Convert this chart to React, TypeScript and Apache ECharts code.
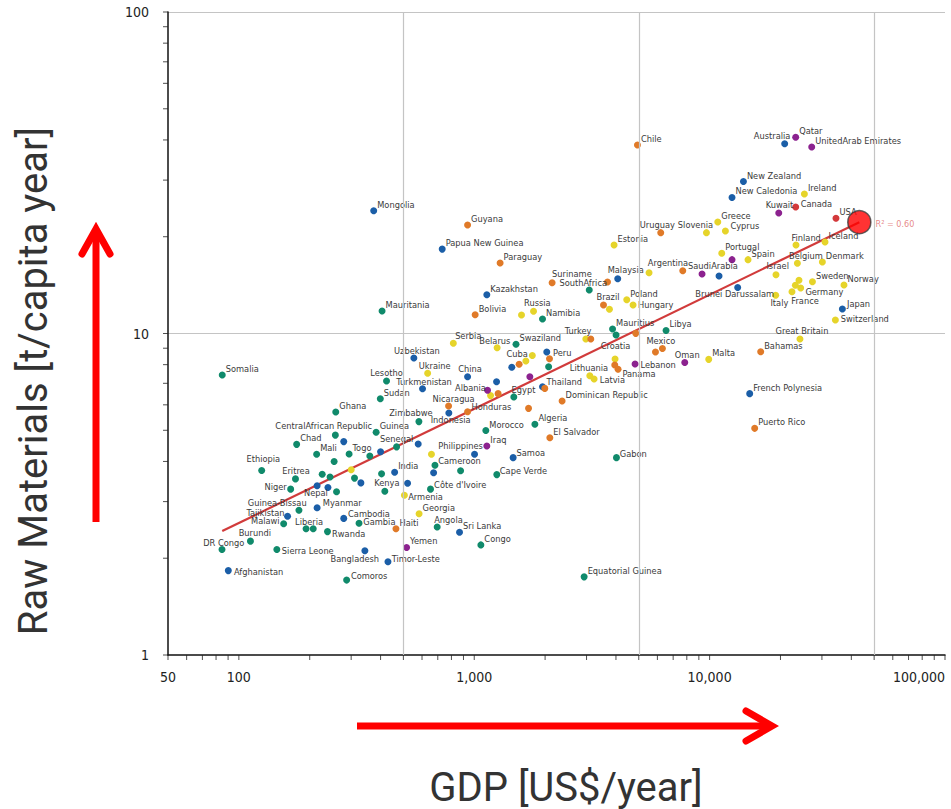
import React, { useEffect, useRef } from 'react';
import * as echarts from 'echarts';

type Pt = [string, number, number];

// [country, GDP US$/year, raw materials t/capita year]
const africa: Pt[] = [
  ['Somalia', 85, 7.43], ['Mauritania', 406, 11.75], ['SouthAfrica', 3080, 13.65],
  ['Namibia', 1950, 11.1], ['Swaziland', 1505, 9.26], ['', 2070, 7.88],
  ['Mauritius', 3870, 10.33], ['', 4005, 9.89], ['Libya', 6530, 10.22],
  ['Lesotho', 424, 7.12], ['Sudan', 399, 6.27], ['Ghana', 258, 5.7],
  ['CentralAfrican Republic', 257, 4.83], ['Guinea', 383, 4.93], ['Chad', 176, 4.52],
  ['Mali', 214, 4.21], ['Togo', 294, 4.22], ['', 254, 4.0], ['', 360, 4.16],
  ['Senegal', 468, 4.44], ['Zimbabwe', 582, 5.32], ['Egypt', 1473, 6.35],
  ['Algeria', 1810, 5.22], ['Morocco', 1120, 4.99], ['Gabon', 4020, 4.11],
  ['Cameroon', 681, 3.89], ['', 875, 3.74], ['Cape Verde', 1247, 3.64],
  ["Côte d'Ivoire", 652, 3.28], ['Angola', 696, 2.5], ['Congo', 1067, 2.2],
  ['Equatorial Guinea', 2930, 1.75], ['Ethiopia', 125, 3.75], ['Eritrea', 174, 3.53],
  ['', 226, 3.65], ['', 244, 3.58], ['', 310, 3.55], ['', 404, 3.66],
  ['Kenya', 417, 3.23], ['Niger', 166, 3.28], ['', 260, 3.22],
  ['Guinea-Bissau', 180, 2.82], ['Malawi', 155, 2.56], ['Liberia', 193, 2.47],
  ['', 207, 2.47], ['Gambia', 324, 2.57], ['Rwanda', 238, 2.42],
  ['Burundi', 112, 2.26], ['DR Congo', 84.8, 2.13], ['Sierra Leone', 145, 2.13],
  ['Comoros', 287, 1.71],
];

const asiaPacific: Pt[] = [
  ['Mongolia', 374, 24.1], ['Papua New Guinea', 731, 18.3], ['Kazakhstan', 1131, 13.2],
  ['Uzbekistan', 554, 8.39], ['', 2033, 8.76], ['', 1444, 7.85], ['China', 937, 7.34],
  ['', 1244, 7.08], ['Thailand', 1950, 6.83], ['Turkmenistan', 603, 6.73],
  ['Indonesia', 780, 5.66], ['', 578, 4.53], ['Philippines', 1003, 4.21],
  ['Samoa', 1463, 4.11], ['', 400, 4.29], ['', 279, 4.61], ['India', 459, 3.7],
  ['', 330, 3.43], ['', 521, 3.42], ['Nepal', 215, 3.36], ['', 239, 3.32],
  ['Myanmar', 215, 2.87], ['Tajikistan', 161, 2.7], ['Cambodia', 279, 2.66],
  ['Bangladesh', 343, 2.11], ['Timor-Leste', 430, 1.95], ['Afghanistan', 90.2, 1.83],
  ['Sri Lanka', 866, 2.41], ['', 672, 3.69], ['Malaysia', 4070, 14.8],
  ['Australia', 20840, 38.9], ['New Zealand', 13920, 29.7], ['New Caledonia', 12450, 26.5],
  ['', 10965, 15.1], ['Brunei Darussalam', 13160, 13.9], ['Japan', 36640, 11.92],
  ['French Polynesia', 14800, 6.5],
];

const europe: Pt[] = [
  ['Serbia', 815, 9.33], ['Belarus', 1251, 9.03], ['', 1657, 8.21], ['', 1765, 8.54],
  ['Turkey', 2978, 9.61], ['Russia', 1588, 11.42], ['', 1786, 11.73], ['Ukraine', 634, 7.52],
  ['Lithuania', 3097, 7.39], ['Latvia', 3230, 7.22], ['Croatia', 3966, 8.33],
  ['Armenia', 505, 3.14], ['Georgia', 583, 2.75], ['', 300, 3.77], ['', 658, 4.21],
  ['Albania', 1173, 6.41], ['Estonia', 3927, 18.85], ['', 5529, 15.46],
  ['Poland', 4446, 12.74], ['Hungary', 4729, 12.27], ['', 3754, 11.89],
  ['Slovenia', 9694, 20.59], ['Greece', 10830, 22.23], ['Cyprus', 11670, 20.84],
  ['Portugal', 11260, 17.77], ['Spain', 14560, 16.97], ['Ireland', 25270, 27.17],
  ['Finland', 23280, 18.85], ['Iceland', 30920, 19.26], ['Belgium', 23600, 16.54],
  ['Denmark', 30130, 16.69], ['Israel', 19140, 15.24], ['Sweden', 27340, 14.49],
  ['Norway', 37220, 14.15], ['', 23970, 14.64], ['', 23140, 14.13],
  ['Germany', 24370, 13.85], ['France', 22380, 13.49], ['Italy', 19090, 13.15],
  ['Switzerland', 34210, 11.02], ['Great Britain', 24200, 9.61], ['Malta', 9913, 8.31],
];

const latinAmerica: Pt[] = [
  ['Chile', 4937, 38.6], ['Guyana', 937, 21.76], ['Paraguay', 1288, 16.57],
  ['Suriname', 2142, 14.39], ['', 3682, 14.46], ['Bolivia', 1009, 11.44],
  ['Brazil', 3541, 12.27], ['Uruguay', 6199, 20.59], ['Argentina', 7689, 15.68],
  ['', 4856, 10.01], ['', 3127, 9.61], ['Cuba', 1551, 8.02], ['Peru', 2088, 8.35],
  ['', 3954, 7.98], ['Panama', 4084, 7.74], ['', 5888, 8.76], ['Mexico', 6302, 8.98],
  ['Bahamas', 16480, 8.78], ['Puerto Rico', 15540, 5.07], ['Dominican Republic', 2362, 6.17],
  ['', 1701, 5.85], ['El Salvador', 2095, 4.74], ['Honduras', 937, 5.71],
  ['Nicaragua', 778, 5.95], ['', 1263, 6.5], ['', 1994, 6.75], ['Haiti', 465, 2.47],
];

const middleEast: Pt[] = [
  ['Qatar', 23210, 40.76], ['UnitedArab Emirates', 27150, 38.03], ['Kuwait', 19660, 23.71],
  ['', 12450, 16.97], ['SaudiArabia', 9286, 15.31], ['Lebanon', 4823, 8.04],
  ['Oman', 7841, 8.12], ['Yemen', 516, 2.16], ['Iraq', 1131, 4.47],
  ['', 1139, 6.66], ['', 1723, 7.34],
];

const northAmerica: Pt[] = [
  ['Canada', 23210, 24.75], ['USA', 34420, 22.82],
];

const trendLine: [number, number][] = [[85, 2.43], [43250, 22.2]];
const trendEnd: [number, number] = [43250, 22.2];
const rSquaredText = 'R² = 0.60';

const xTickValues = [
  50, 60, 70, 80, 90, 100, 200, 300, 400, 500, 600, 700, 800, 900, 1000,
  2000, 3000, 4000, 5000, 6000, 7000, 8000, 9000, 10000,
  20000, 30000, 40000, 50000, 60000, 70000, 80000, 90000, 100000,
];
const yTickValues = [1, 2, 3, 4, 5, 6, 7, 8, 9, 10, 20, 30, 40, 50, 60, 70, 80, 90, 100];
const verticalGrid = [500, 5000, 50000];

const xTitle = 'GDP [US$/year]';
const yTitle = 'Raw Materials [t/capita year]';

// label placement (style), relative to point centre: [dx, dy, align]
type Off = [number, number, 'left' | 'center' | 'right'];
const DEFAULT_OFF: Off = [3.5, -6.5, 'left'];
const labelOffsets: Record<string, Off> = {
  SouthAfrica: [-6, -8, 'center'], Lesotho: [0, -8.7, 'center'],
  'CentralAfrican Republic': [-11.6, -9.3, 'center'], Senegal: [0, -8, 'center'],
  Zimbabwe: [-8, -9, 'center'], Egypt: [-2.3, -7.7, 'left'], 'Cape Verde': [3, -4, 'left'],
  "Côte d'Ivoire": [3.6, -4.6, 'left'], Angola: [-3, -7.7, 'left'],
  Ethiopia: [1.6, -11.5, 'center'], Eritrea: [0.5, -8.3, 'center'], Kenya: [2, -8.3, 'center'],
  Niger: [-4, -3, 'right'], 'Guinea-Bissau': [7.7, -7.6, 'right'], Malawi: [-4, -3, 'right'],
  Liberia: [3, -7.7, 'center'], Gambia: [4.3, -1.3, 'left'], Rwanda: [4.6, 2.3, 'left'],
  Burundi: [4.4, -9, 'center'], 'DR Congo': [1.8, -7.3, 'center'],
  'Sierra Leone': [5, 1, 'left'], Comoros: [4.3, -4.6, 'left'], Gabon: [3.3, -4.5, 'left'],
  Cameroon: [3.3, -4.6, 'left'],
  Uzbekistan: [3, -8, 'center'], China: [2.5, -8.4, 'center'], Thailand: [4, -5, 'left'],
  Turkmenistan: [1.5, -7.7, 'center'], Indonesia: [1.8, 6.3, 'center'],
  Philippines: [8.3, -8.3, 'right'], Samoa: [3.4, -5, 'left'], Nepal: [-1.2, 6.3, 'center'],
  Myanmar: [5.7, -5, 'left'], Tajikistan: [-3, -4, 'right'], Cambodia: [4.3, -5, 'left'],
  Bangladesh: [-10, 7.6, 'center'], 'Timor-Leste': [3.7, -3.4, 'left'],
  Afghanistan: [5.7, 1, 'left'], Malaysia: [8, -9, 'center'], Australia: [5.7, -8, 'right'],
  'Brunei Darussalam': [-3, 6.3, 'center'], Japan: [4.6, -5, 'left'],
  Serbia: [1.8, -7.5, 'left'], Belarus: [-2.3, -7.7, 'center'], Turkey: [5.7, -9, 'right'],
  Russia: [2.6, -12, 'left'], Ukraine: [7, -7.6, 'center'], Lithuania: [-0.8, -8, 'center'],
  Latvia: [5.7, 1, 'left'], Croatia: [0.5, -13.3, 'center'], Armenia: [3.8, 1.4, 'left'],
  Albania: [-4.7, -8.4, 'right'], Hungary: [5, 0, 'left'], Slovenia: [6.6, -7.7, 'right'],
  Cyprus: [5, -5.3, 'left'], Finland: [-4.6, -7.7, 'left'], Belgium: [-8.4, -7.6, 'left'],
  Israel: [-9.6, -8.7, 'left'], Germany: [4.7, 3, 'left'], France: [-0.6, 8.3, 'left'],
  Italy: [-5.3, 7.4, 'left'], Switzerland: [5.3, -1.7, 'left'],
  'Great Britain': [2, -9, 'center'],
  Suriname: [0, -9.4, 'left'], Brazil: [-7, -8.3, 'left'], Uruguay: [-21, -8.4, 'left'],
  Argentina: [5.3, -8, 'right'], Cuba: [-12.6, -11, 'left'], Panama: [4.4, 4, 'left'],
  Mexico: [-16, -8.2, 'left'], Nicaragua: [-16, -7, 'left'], Honduras: [4, -5, 'left'],
  Kuwait: [-13, -8, 'left'], SaudiArabia: [-14, -8.3, 'left'], Lebanon: [5.4, 1, 'left'],
  Oman: [-10, -8.4, 'left'], Canada: [5, -3.7, 'left'],
};

const SYM = 7;
const LABEL_FONT = '"Liberation Sans Narrow", "Arial Narrow", "DejaVu Sans Condensed", sans-serif';

function items(pts: Pt[]) {
  return pts.map(([name, x, y]) => {
    const off = labelOffsets[name] || DEFAULT_OFF;
    return {
      name,
      value: [x, y],
      label: name
        ? {
            show: true,
            position: [SYM / 2 + off[0], SYM / 2 + off[1]],
            align: off[2],
            verticalAlign: 'middle',
          }
        : { show: false },
    };
  });
}

function group(pts: Pt[], color: string) {
  return {
    type: 'scatter',
    silent: true,
    z: 3,
    symbolSize: SYM,
    itemStyle: { color, opacity: 1 },
    label: {
      formatter: '{b}',
      fontFamily: LABEL_FONT,
      fontSize: 9.2,
      color: '#3a3a3a',
    },
    data: items(pts),
  };
}

export default function App() {
  const ref = useRef<HTMLDivElement>(null);

  useEffect(() => {
    if (!ref.current) return;
    const chart = echarts.init(ref.current, undefined, { renderer: 'svg' });
    const red = '#ff0000';
    chart.setOption({
      animation: false,
      backgroundColor: '#ffffff',
      grid: {
        left: 168, right: 6, top: 12, bottom: 154,
        containLabel: false, outerBoundsMode: 'none',
      },
      xAxis: {
        type: 'log',
        logBase: 10,
        min: 50,
        max: 100000,
        axisLine: { show: true, lineStyle: { color: '#111', width: 1.5 } },
        axisTick: { show: false },
        splitLine: { show: false },
        axisLabel: {
          margin: 15,
          fontFamily: LABEL_FONT,
          fontSize: 14,
          color: '#222',
          alignMaxLabel: 'right',
          formatter: (v: number) => Math.round(v).toLocaleString('en-US'),
        },
      },
      yAxis: {
        type: 'log',
        logBase: 10,
        min: 1,
        max: 100,
        axisLine: { show: true, lineStyle: { color: '#111', width: 1.5 } },
        axisTick: { show: false },
        splitLine: { show: true, showMinLine: false, lineStyle: { color: '#c4c4c4', width: 1.2 } },
        axisLabel: {
          margin: 19,
          fontFamily: LABEL_FONT,
          fontSize: 14,
          color: '#222',
          formatter: (v: number) => String(Math.round(v)),
        },
      },
      series: [
        {
          type: 'line',
          silent: true,
          z: 2,
          symbol: 'none',
          data: trendLine,
          lineStyle: { color: '#d13b3b', width: 2.2 },
          markLine: {
            silent: true,
            symbol: ['none', 'none'],
            label: { show: false },
            lineStyle: { color: '#c4c4c4', width: 1.2, type: 'solid' },
            data: verticalGrid.map((v) => ({ xAxis: v })),
          },
        },
        group(africa, '#108a6b'),
        group(asiaPacific, '#1b5ea7'),
        group(europe, '#e6d42a'),
        group(latinAmerica, '#e07a28'),
        group(middleEast, '#8c228f'),
        group(northAmerica, '#d3393b'),
        {
          type: 'scatter',
          silent: true,
          z: 6,
          symbolSize: 23,
          itemStyle: { color: '#ff0000', borderColor: '#3a3a3a', borderWidth: 1.5 },
          label: {
            show: true,
            formatter: rSquaredText,
            position: [11.5 + 17, 11.5 + 2.7],
            align: 'left',
            verticalAlign: 'middle',
            fontFamily: LABEL_FONT,
            fontSize: 9,
            color: '#e06a6a',
          },
          data: [trendEnd],
        },
        {
          type: 'scatter',
          silent: true,
          clip: false,
          z: 5,
          symbol: 'rect',
          symbolSize: [1, 5],
          symbolOffset: [0, 2.5],
          itemStyle: { color: '#222' },
          data: xTickValues.map((v) => [v, 1]),
        },
        {
          type: 'scatter',
          silent: true,
          clip: false,
          z: 5,
          symbol: 'rect',
          symbolSize: [5, 1],
          symbolOffset: [-2.5, 0],
          itemStyle: { color: '#222' },
          data: yTickValues.map((v) => [50, v]),
        },
      ],
      graphic: [
        {
          type: 'text',
          x: 33,
          y: 381,
          rotation: Math.PI / 2,
          silent: true,
          style: {
            text: yTitle,
            fontFamily: 'Roboto, "Liberation Sans", sans-serif',
            fontSize: 40,
            fill: '#333',
            align: 'center',
            verticalAlign: 'middle',
            textAlign: 'center',
            textVerticalAlign: 'middle',
          },
        },
        {
          type: 'text',
          x: 566,
          y: 787,
          silent: true,
          style: {
            text: xTitle,
            fontFamily: 'Roboto, "Liberation Sans", sans-serif',
            fontSize: 40,
            fill: '#333',
            align: 'center',
            verticalAlign: 'middle',
            textAlign: 'center',
            textVerticalAlign: 'middle',
          },
        },
        {
          type: 'line',
          silent: true,
          shape: { x1: 96, y1: 522, x2: 96, y2: 232 },
          style: { stroke: red, lineWidth: 7 },
        },
        {
          type: 'polyline',
          silent: true,
          shape: { points: [[82, 254], [96, 229], [110, 254]] },
          style: { stroke: red, lineWidth: 7, lineCap: 'round', lineJoin: 'miter', fill: null },
        },
        {
          type: 'line',
          silent: true,
          shape: { x1: 357, y1: 726, x2: 770, y2: 726 },
          style: { stroke: red, lineWidth: 7 },
        },
        {
          type: 'polyline',
          silent: true,
          shape: { points: [[746, 711], [772, 726], [746, 741]] },
          style: { stroke: red, lineWidth: 7, lineCap: 'round', lineJoin: 'miter', fill: null },
        },
      ],
    });
    return () => chart.dispose();
  }, []);

  return (
    <div
      ref={ref}
      style={{ position: 'fixed', left: 0, top: 0, width: 951, height: 809, background: '#fff' }}
    />
  );
}
